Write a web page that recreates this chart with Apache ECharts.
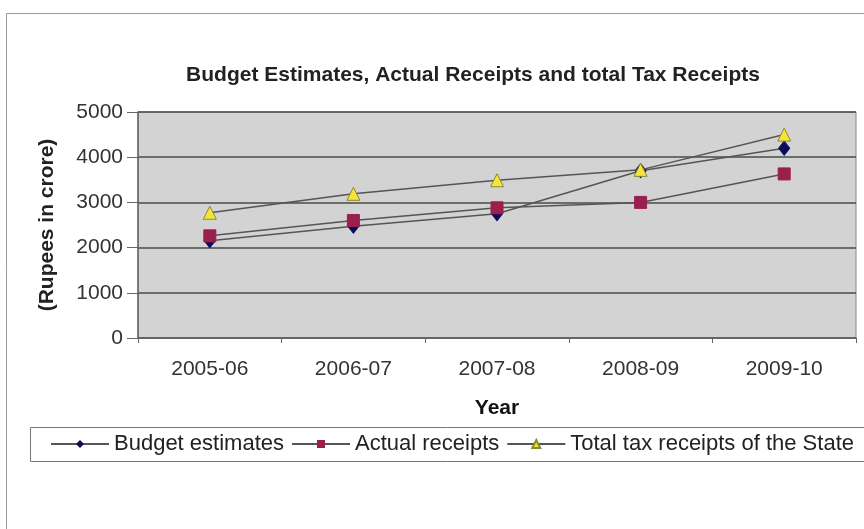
<!DOCTYPE html>
<html>
<head>
<meta charset="utf-8">
<script src="https://cdn.jsdelivr.net/npm/echarts@6/dist/echarts.min.js"></script>
<style>
  html, body { margin: 0; padding: 0; background: #fff; }
  #main { width: 864px; height: 529px; }
</style>
</head>
<body>
<div id="main"></div>
<script>
var years = ['2005-06', '2006-07', '2007-08', '2008-09', '2009-10'];
var budgetEstimates = [2150, 2475, 2750, 3700, 4200];
var actualReceipts = [2260, 2600, 2880, 3000, 3630];
var totalTaxReceipts = [2770, 3190, 3490, 3720, 4500];

var chart = echarts.init(document.getElementById('main'));

var font = 'Liberation Sans, Arial, sans-serif';

option = {
	backgroundColor: '#fff',
	animation: false,
	title: {
		text: 'Budget Estimates, Actual Receipts and total Tax Receipts',
		left: 468,
		textAlign: 'center',
		top: 60,
		textStyle: {
			color: '#222',
			fontSize: 21,
			fontWeight: 'bold',
			fontFamily: font
		}
	},
	graphic: [
		{   // outer chart frame
			type: 'rect',
			shape: { x: 6.5, y: 13.5, width: 870, height: 540 },
			style: { fill: 'none', stroke: '#9a9a9a', lineWidth: 1 },
			z: -10
		},
		{   // legend box
			type: 'rect',
			shape: { x: 30.5, y: 427.5, width: 850, height: 34 },
			style: { fill: '#fff', stroke: '#777', lineWidth: 1 },
			z: -5
		}
	],
	legend: {
		left: 50,
		top: 433,
		padding: 0,
		itemGap: 7,
		itemWidth: 58,
		itemHeight: 10,
		textStyle: {
			color: '#222',
			fontSize: 22,
			fontFamily: font
		},
		data: ['Budget estimates', 'Actual receipts', 'Total tax receipts of the State']
	},
	grid: {
		left: 138,
		right: 8,
		top: 112,
		bottom: 191,
		show: true,
		backgroundColor: '#d3d3d3',
		borderColor: '#888',
		borderWidth: 1
	},
	xAxis: {
		type: 'category',
		data: years,
		boundaryGap: true,
		name: 'Year',
		nameLocation: 'middle',
		nameGap: 60,
		nameTextStyle: {
			color: '#111',
			fontSize: 21,
			fontWeight: 'bold',
			fontFamily: font
		},
		axisLine: { lineStyle: { color: '#666', width: 1.5 } },
		axisTick: { show: true, length: 5, lineStyle: { color: '#666' } },
		axisLabel: {
			color: '#333',
			fontSize: 21,
			fontFamily: font,
			margin: 21
		}
	},
	yAxis: {
		type: 'value',
		min: 0,
		max: 5000,
		interval: 1000,
		name: '(Rupees in crore)',
		nameLocation: 'middle',
		nameGap: 80,
		nameRotate: 90,
		nameTextStyle: {
			color: '#222',
			fontSize: 21,
			fontWeight: 'bold',
			fontFamily: font
		},
		axisLine: { show: true, lineStyle: { color: '#666', width: 1.5 } },
		axisTick: { show: true, length: 11, lineStyle: { color: '#666' } },
		axisLabel: {
			color: '#333',
			fontSize: 21,
			fontFamily: font,
			margin: 15,
			formatter: function (v) { return String(v); }
		},
		splitLine: {
			show: true,
			lineStyle: { color: '#4a4a4a', width: 1.5 }
		}
	},
	series: [
		{
			name: 'Budget estimates',
			type: 'line',
			data: budgetEstimates,
			symbol: 'diamond',
			symbolSize: [11, 14],
			lineStyle: { color: '#555', width: 1.5 },
			itemStyle: { color: '#0b0b5a', borderColor: '#0b0b5a' },
			z: 3
		},
		{
			name: 'Actual receipts',
			type: 'line',
			data: actualReceipts,
			symbol: 'rect',
			symbolSize: 12,
			lineStyle: { color: '#555', width: 1.5 },
			itemStyle: { color: '#9a1f4f', borderColor: '#9a1f4f' },
			z: 4
		},
		{
			name: 'Total tax receipts of the State',
			type: 'line',
			data: totalTaxReceipts,
			symbol: 'triangle',
			symbolSize: [13, 13],
			lineStyle: { color: '#555', width: 1.5 },
			itemStyle: { color: '#f5e43a', borderColor: '#8a8a30', borderWidth: 1 },
			z: 5
		}
	]
};

chart.setOption(option);
</script>
</body>
</html>
